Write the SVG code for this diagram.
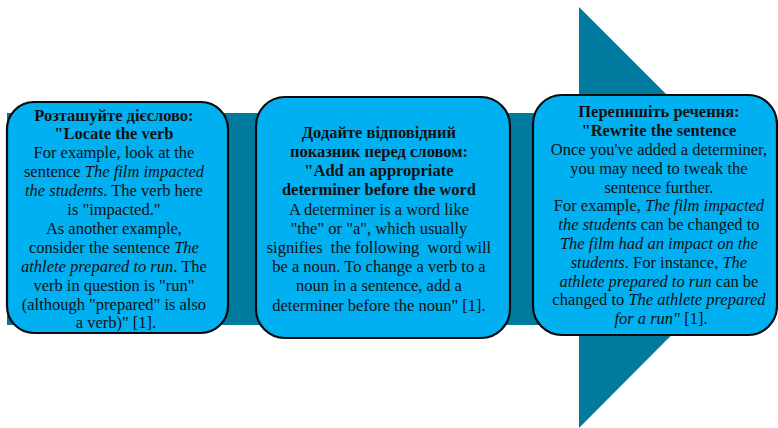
<svg xmlns="http://www.w3.org/2000/svg" width="778" height="428" viewBox="0 0 778 428">
<style>
.box{fill:#00B0F0;stroke:#0a0a0a;stroke-width:2.2}
.t{font-family:"Liberation Serif","Times New Roman",serif;font-size:16.5px;fill:#111;text-anchor:middle}
.b{font-weight:bold}
.i{font-style:italic}
</style>
<rect width="778" height="428" fill="#ffffff"/>
<g id="arrow">
<polygon points="7,113 579,113 579,7 789,217 579,428 579,325 7,325" fill="#007A9E"/>
</g>
<g id="connectors"></g>
<g id="node1">
<rect class="box" x="7" y="102" width="221" height="231" rx="27"/>
<text class="t">
<tspan class="b" x="116" y="120.5">Розташуйте дієслово:</tspan>
<tspan class="b" x="116" y="139.4">"Locate the verb</tspan>
<tspan x="116" y="158.3">For example, look at the</tspan>
<tspan x="116" y="177.2">sentence <tspan class="i">The film impacted</tspan></tspan>
<tspan x="116" y="196.1"><tspan class="i">the students</tspan>. The verb here</tspan>
<tspan x="116" y="215">is "impacted."</tspan>
<tspan x="116" y="233.9">As another example,</tspan>
<tspan x="116" y="252.8">consider the sentence <tspan class="i">The</tspan></tspan>
<tspan x="116" y="271.7"><tspan class="i">athlete prepared to run</tspan>. The</tspan>
<tspan x="116" y="290.6">verb in question is "run"</tspan>
<tspan x="116" y="309.5">(although "prepared" is also</tspan>
<tspan x="116" y="328.4">a verb)" [1].</tspan>
</text>
</g>
<g id="node2">
<rect class="box" x="256" y="97" width="254" height="241" rx="29"/>
<text class="t" style="white-space:pre">
<tspan class="b" x="381" y="137.7">Додайте відповідний</tspan>
<tspan class="b" x="381" y="156.9">показник перед словом:</tspan>
<tspan class="b" x="381" y="176.1">"Add an appropriate</tspan>
<tspan class="b" x="381" y="195.3">determiner before the word</tspan>
<tspan x="381" y="214.5">A determiner is a word like</tspan>
<tspan x="381" y="233.7">"the" or "a", which usually</tspan>
<tspan x="381" y="252.9">signifies  the following  word will</tspan>
<tspan x="381" y="272.1">be a noun. To change a verb to a</tspan>
<tspan x="381" y="291.3">noun in a sentence, add a</tspan>
<tspan x="381" y="310.5">determiner before the noun" [1].</tspan>
</text>
</g>
<g id="node3">
<rect class="box" x="533" y="95" width="244" height="240" rx="29"/>
<text class="t">
<tspan class="b" x="661" y="117.3">Перепишіть речення:</tspan>
<tspan class="b" x="661" y="136.1">"Rewrite the sentence</tspan>
<tspan x="661" y="154.9">Once you've added a determiner,</tspan>
<tspan x="661" y="173.7">you may need to tweak the</tspan>
<tspan x="661" y="192.5">sentence further.</tspan>
<tspan x="661" y="211.3">For example, <tspan class="i">The film impacted</tspan></tspan>
<tspan x="661" y="230.1"><tspan class="i">the students</tspan> can be changed to</tspan>
<tspan x="661" y="248.9" class="i">The film had an impact on the</tspan>
<tspan x="661" y="267.7"><tspan class="i">students</tspan>. For instance, <tspan class="i">The</tspan></tspan>
<tspan x="661" y="286.5"><tspan class="i">athlete prepared to run</tspan> can be</tspan>
<tspan x="661" y="305.3">changed to <tspan class="i">The athlete prepared</tspan></tspan>
<tspan x="661" y="324.1"><tspan class="i">for a run"</tspan> [1].</tspan>
</text>
</g>
</svg>
